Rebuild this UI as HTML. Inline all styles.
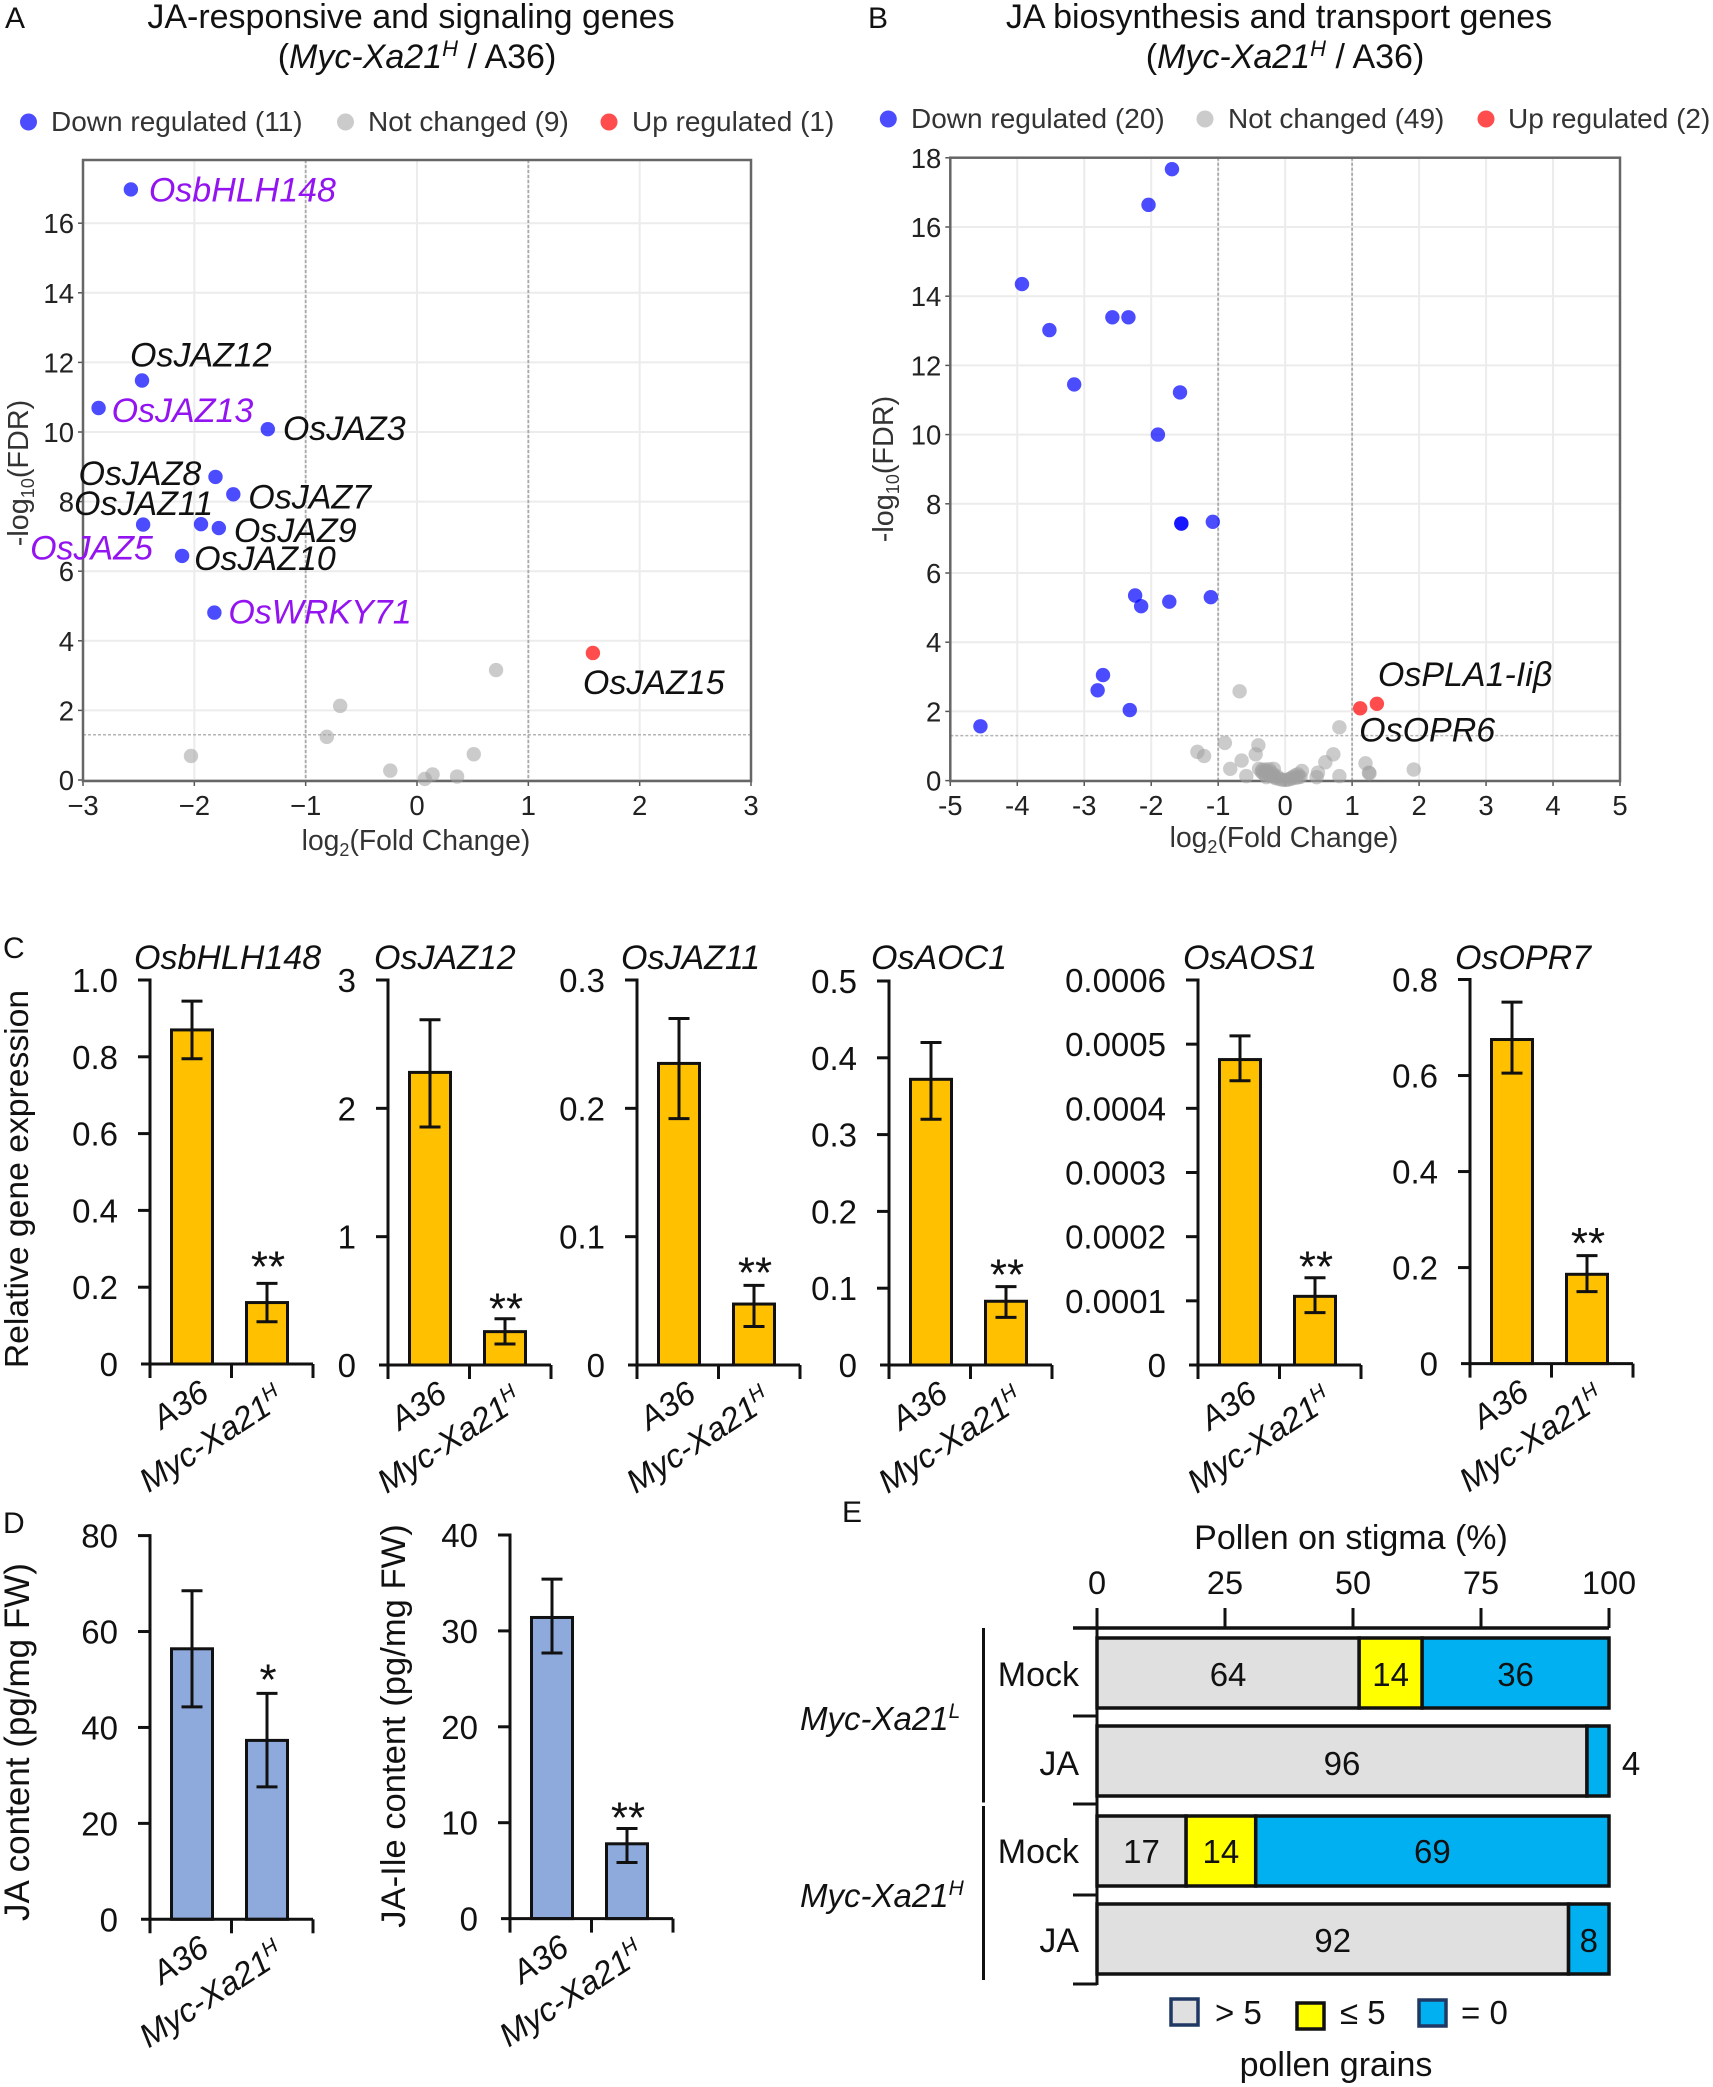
<!DOCTYPE html>
<html><head><meta charset="utf-8"><title>JA figure</title>
<style>
html,body{margin:0;padding:0;background:#fff}
svg{display:block;font-family:"Liberation Sans",sans-serif}
</style></head>
<body>
<svg id="fig" xmlns="http://www.w3.org/2000/svg" width="1713" height="2087" viewBox="0 0 1713 2087" fill="#111">
<rect x="0" y="0" width="1713" height="2087" fill="#fff"/>
<text x="5" y="28" font-size="30">A</text>
<text x="868" y="28" font-size="30">B</text>
<text x="3" y="958" font-size="30">C</text>
<text x="3" y="1533" font-size="30">D</text>
<text x="842" y="1522" font-size="30">E</text>
<text x="411" y="28" font-size="34" text-anchor="middle">JA-responsive and signaling genes</text>
<text x="417" y="68" font-size="34" text-anchor="middle">(<tspan font-style="italic">Myc-Xa21</tspan><tspan font-style="italic" font-size="22" dy="-12">H</tspan><tspan dy="12"> / A36)</tspan></text>
<text x="1279" y="28" font-size="34" text-anchor="middle">JA biosynthesis and transport genes</text>
<text x="1285" y="68" font-size="34" text-anchor="middle">(<tspan font-style="italic">Myc-Xa21</tspan><tspan font-style="italic" font-size="22" dy="-12">H</tspan><tspan dy="12"> / A36)</tspan></text>
<text transform="translate(28,1179) rotate(-90)" font-size="33.7" text-anchor="middle">Relative gene expression</text>
<text transform="translate(29,1742) rotate(-90)" font-size="35" text-anchor="middle">JA content (pg/mg FW)</text>
<text transform="translate(405,1726) rotate(-90)" font-size="34.6" text-anchor="middle">JA-Ile content (pg/mg FW)</text>
<g id="layer"></g>
</svg>
<script>
// Panel A values
const aBlueX=[-2.57,-2.47,-2.86,-1.34,-1.81,-1.65,-2.46,-1.94,-1.78,-2.11,-1.82];
const aBlueY=[16.97,11.48,10.69,10.08,8.71,8.21,7.34,7.35,7.24,6.44,4.81];
const aBlueGenes=['OsbHLH148','OsJAZ12','OsJAZ13','OsJAZ3','OsJAZ8','OsJAZ7','OsJAZ5','OsJAZ11','OsJAZ9','OsJAZ10','OsWRKY71'];
const aGreyX=[0.71,-0.69,-0.81,-2.03,-0.24,0.07,0.14,0.36,0.51];
const aGreyY=[3.16,2.13,1.24,0.69,0.27,0.03,0.16,0.10,0.74];
const aRedX=[1.58];
const aRedY=[3.65];
const aXTicks=[-3,-2,-1,0,1,2,3];
const aYTicks=[0,2,4,6,8,10,12,14,16];
// Panel B values
const bBlueX=[-1.69,-2.04,-3.93,-3.52,-2.58,-2.34,-3.15,-1.57,-1.90,-1.55,-1.55,-1.08,-2.24,-2.15,-1.73,-1.11,-2.72,-2.80,-2.32,-4.55];
const bBlueY=[17.67,16.64,14.35,13.02,13.39,13.39,11.45,11.22,10.0,7.43,7.43,7.48,5.35,5.04,5.17,5.30,3.05,2.61,2.04,1.57];
const bGreyX=[-0.68,0.81,-1.31,-1.21,-0.90,-0.82,-0.65,-0.58,-0.40,-0.44,-0.39,-0.34,-0.27,-0.21,-0.17,-0.30,-0.22,-0.16,-0.09,-0.01,0.07,0.11,0.15,0.19,0.25,0.23,0.47,0.49,0.60,0.72,0.81,1.2,1.25,1.26,1.92,-0.35,-0.3,-0.25,-0.28,-0.18,-0.12,-0.05,0.03,0.1,0.16,0.2,-0.33,-0.24,-0.14];
const bGreyY=[2.58,1.54,0.83,0.71,1.09,0.34,0.58,0.13,1.02,0.76,0.34,0.31,0.28,0.24,0.34,0.18,0.13,0.10,0.05,0.02,0.05,0.1,0.15,0.18,0.28,0.11,0.1,0.23,0.53,0.76,0.13,0.5,0.23,0.21,0.32,0.25,0.32,0.2,0.1,0.18,0.12,0.03,0.02,0.06,0.08,0.1,0.22,0.33,0.07];
const bRedX=[1.12,1.37];
const bRedY=[2.09,2.22];
const bRedGenes=['OsOPR6','OsPLA1-Iiβ'];
const bXTicks=[-5,-4,-3,-2,-1,0,1,2,3,4,5];
const bYTicks=[0,2,4,6,8,10,12,14,16,18];
// Panel C values
const cGenes=['OsbHLH148','OsJAZ12','OsJAZ11','OsAOC1','OsAOS1','OsOPR7'];
const cTickLabels=[['0','0.2','0.4','0.6','0.8','1.0'],['0','1','2','3'],['0','0.1','0.2','0.3'],['0','0.1','0.2','0.3','0.4','0.5'],['0','0.0001','0.0002','0.0003','0.0004','0.0005','0.0006'],['0','0.2','0.4','0.6','0.8']];
const cA36=[0.87,2.28,0.235,0.372,0.000476,0.675];
const cA36Hi=[0.945,2.69,0.27,0.42,0.000513,0.753];
const cA36Lo=[0.795,1.855,0.192,0.32,0.000443,0.605];
const cMyc=[0.16,0.26,0.0475,0.083,0.000107,0.186];
const cMycHi=[0.21,0.36,0.062,0.102,0.000136,0.225];
const cMycLo=[0.11,0.164,0.03,0.062,0.0000816,0.15];
const cStars=['**','**','**','**','**','**'];
// Panel D values
const dTickLabels=[['0','20','40','60','80'],['0','10','20','30','40']];
const dA36=[56.4,31.4];
const dA36Hi=[68.5,35.4];
const dA36Lo=[44.3,27.7];
const dMyc=[37.3,7.8];
const dMycHi=[47.1,9.4];
const dMycLo=[27.6,5.85];
const dStars=['*','**'];
// Panel E values
const eTicks=[0,25,50,75,100];
const eRows=['Mock','JA','Mock','JA'];
const eGrey=[51.2,95.7,17.4,92.1];
const eYellow=[12.3,0,13.6,0];
const eBlue=[36.5,4.3,69,7.9];
const eGreyPrinted=['64','96','17','92'];
const eYellowPrinted=['14','','14',''];
const eBluePrinted=['36','','69','8'];
const eOutsidePrinted=['','4','',''];

const NS='http://www.w3.org/2000/svg';
const layer=document.getElementById('layer');
function mk(tag,attrs){
  const el=document.createElementNS(NS,tag);
  for(const k in attrs) el.setAttribute(k,attrs[k]);
  layer.appendChild(el);
  return el;
}
function line(name,x1,y1,x2,y2,stroke,w,dash){
  const el=mk('line',{x1,y1,x2,y2,stroke,'stroke-width':w});
  if(dash) el.setAttribute('stroke-dasharray',dash);
  
  
  return el;
}
function txt(name,x,y,s,size,anchor,extra){
  const el=mk('text',Object.assign({x,y,'font-size':size,'text-anchor':anchor||'start'},extra||{}));
  el.textContent=s;
  
  
  return el;
}
function dot(name,cx,cy,r,fill){
  const el=mk('circle',{cx,cy,r,fill});
  
  
  return el;
}
function box(name,x,y,w,h,fill,stroke,sw){
  const el=mk('rect',{x,y,width:w,height:h,fill,stroke,'stroke-width':sw});
  
  
  return el;
}
const BLUE='rgba(0,0,255,.7)',RED='rgba(255,0,0,.7)',GREY='rgba(160,160,160,.55)',PURPLE='#9314F0';

function volcano(c){
  const sx=v=>c.left+(v-c.xMin)/(c.xMax-c.xMin)*(c.right-c.left);
  const sy=v=>c.zero-v*c.unit;
  c.xTicks.forEach(t=>{
    line(c.id+'-vgrid',sx(t),c.top,sx(t),c.bottom,'#ececec',2);
    line(c.id+'-xtick',sx(t),c.bottom,sx(t),c.bottom+5,'#555',1.5);
    txt(c.id+'-xtick-label',sx(t),c.xLabelY,(c.minus&&t<0?'−':(t<0?'-':''))+Math.abs(t),c.tickSize,'middle',{fill:'#222'});
  });
  c.yTicks.forEach(t=>{
    line(c.id+'-hgrid',c.left,sy(t),c.right,sy(t),'#ececec',2);
    line(c.id+'-ytick',c.left-5,sy(t),c.left,sy(t),'#555',1.5);
    txt(c.id+'-ytick-label',c.left-9,sy(t)+10,String(t),c.tickSize,'end',{fill:'#222'});
  });
  line(c.id+'-threshold-left',sx(-1),c.top,sx(-1),c.bottom,'#aaa',1.8,'3 2');
  line(c.id+'-threshold-right',sx(1),c.top,sx(1),c.bottom,'#aaa',1.8,'3 2');
  line(c.id+'-threshold-fdr',c.left,sy(1.3),c.right,sy(1.3),'#b4b4b4',1.5,'3 2');
  box(c.id+'-plot-frame',c.left,c.top,c.right-c.left,c.bottom-c.top,'none','#666',2.5);
  c.greyX.forEach((x,i)=>dot(c.id+'-point-not-changed',sx(x),sy(c.greyY[i]),7.2,GREY));
  c.blueX.forEach((x,i)=>dot(c.id+'-point-down',sx(x),sy(c.blueY[i]),7.2,BLUE));
  c.redX.forEach((x,i)=>dot(c.id+'-point-up',sx(x),sy(c.redY[i]),7.2,RED));
  // legend
  const L=c.legend;
  dot(c.id+'-legend-dot-down',L.d1,L.y+1,8.5,BLUE);
  txt(c.id+'-legend-down',L.t1,L.y+10,L.s1,28,'start',{fill:'#333'});
  dot(c.id+'-legend-dot-not-changed',L.d2,L.y+1,8.5,GREY);
  txt(c.id+'-legend-not-changed',L.t2,L.y+10,L.s2,28,'start',{fill:'#333'});
  dot(c.id+'-legend-dot-up',L.d3,L.y+1,8.5,RED);
  txt(c.id+'-legend-up',L.t3,L.y+10,L.s3,28,'start',{fill:'#333'});
  // axis titles
  const xt=txt(c.id+'-x-axis-title',c.xTitleX,c.xTitleY,'log',28.3,'middle',{fill:'#333'});
  const s1=document.createElementNS(NS,'tspan');s1.setAttribute('font-size','18');s1.setAttribute('dy','6');s1.textContent='2';xt.appendChild(s1);
  const s2=document.createElementNS(NS,'tspan');s2.setAttribute('dy','-6');s2.textContent='(Fold Change)';xt.appendChild(s2);
  const yt=txt(c.id+'-y-axis-title',0,0,'-log',28.8,'middle',{fill:'#333',transform:'translate('+c.yTitleX+','+c.yTitleY+') rotate(-90)'});
  const s3=document.createElementNS(NS,'tspan');s3.setAttribute('font-size','18');s3.setAttribute('dy','6');s3.textContent='10';yt.appendChild(s3);
  const s4=document.createElementNS(NS,'tspan');s4.setAttribute('dy','-6');s4.textContent='(FDR)';yt.appendChild(s4);
  return {sx,sy};
}
function geneTag(name,x,y,s,color,size){
  return txt('gene-label-'+name,x,y,s,size||34,'start',{'font-style':'italic','dominant-baseline':'central',fill:color||'#111'});
}
const A=volcano({id:'panel-a',left:83,right:751,top:160,bottom:781,zero:780,unit:34.8,xMin:-3,xMax:3,xTicks:aXTicks,yTicks:aYTicks,minus:true,tickSize:27.5,xLabelY:815,
  greyX:aGreyX,greyY:aGreyY,blueX:aBlueX,blueY:aBlueY,redX:aRedX,redY:aRedY,xTitleX:416,xTitleY:850,yTitleX:28,yTitleY:473,
  legend:{y:121,d1:28.5,t1:51,d2:345.5,t2:368,d3:609,t3:632,s1:'Down regulated (11)',s2:'Not changed (9)',s3:'Up regulated (1)'}});
const B=volcano({id:'panel-b',left:950.3,right:1620,top:157.7,bottom:781,zero:780.6,unit:34.6,xMin:-5,xMax:5,xTicks:bXTicks,yTicks:bYTicks,minus:false,tickSize:27.5,xLabelY:815,
  greyX:bGreyX,greyY:bGreyY,blueX:bBlueX,blueY:bBlueY,redX:bRedX,redY:bRedY,xTitleX:1284,xTitleY:847,yTitleX:893,yTitleY:469,
  legend:{y:118,d1:888.3,t1:911,d2:1205,t2:1228,d3:1486,t3:1508,s1:'Down regulated (20)',s2:'Not changed (49)',s3:'Up regulated (2)'}});

function annA(i,dx,dy,color){
  geneTag(aBlueGenes[i],A.sx(aBlueX[i])+dx,A.sy(aBlueY[i])+dy,aBlueGenes[i],color);
}
annA(0,18,1,PURPLE);annA(1,-12,-25);annA(2,13,3,PURPLE);annA(3,15,0);annA(4,-137,-3);annA(5,15,3);
annA(6,-113,24,PURPLE);annA(7,-127,-20);annA(8,15,3);annA(9,12,3);annA(10,14,0,PURPLE);
geneTag('OsJAZ15',A.sx(aRedX[0])-10,A.sy(aRedY[0])+30,'OsJAZ15');
geneTag(bRedGenes[0],B.sx(bRedX[0])-1,B.sy(bRedY[0])+22,bRedGenes[0]);
geneTag(bRedGenes[1],B.sx(bRedX[1])+1,B.sy(bRedY[1])-29,bRedGenes[1]);

function barChart(c){
  const vals=c.labels.map(Number);
  const max=Math.max.apply(null,vals);
  const sy=v=>c.zero-v/max*(c.zero-c.top);
  const id=c.id;
  const X=c.axis;
  const bars=[[X+21.5,c.a,c.aHi,c.aLo,'a36'],[X+96.5,c.m,c.mHi,c.mLo,'myc']];
  bars.forEach(b=>{
    box(id+'-bar-'+b[4],b[0],sy(b[1]),41,c.zero-sy(b[1]),c.fill,'#111',3);
    const cx=b[0]+20.5;
    line(id+'-errorbar-'+b[4],cx,sy(b[2]),cx,sy(b[3]),'#111',3);
    line(id+'-errorcap-top-'+b[4],cx-10.5,sy(b[2]),cx+10.5,sy(b[2]),'#111',3);
    line(id+'-errorcap-bottom-'+b[4],cx-10.5,sy(b[3]),cx+10.5,sy(b[3]),'#111',3);
  });
  line(id+'-y-axis',X,c.top-1.5,X,c.zero+14,'#111',3);
  line(id+'-x-axis',X-9,c.zero,X+163,c.zero,'#111',3);
  [0,81.5,163].forEach((d,i)=>{ if(i) line(id+'-x-tick',X+d,c.zero,X+d,c.zero+14,'#111',3); });
  c.labels.forEach((s,i)=>{
    const v=vals[i];
    if(v>0) line(id+'-y-tick',X-12,sy(v),X,sy(v),'#111',3);
    txt(id+'-y-tick-label',X-32,sy(v)+12,s,33,'end');
  });
  txt(id+'-significance',X+118,sy(c.mHi)-c.starGap+19,c.star,44,'middle');
  txt(id+'-x-label-a36',0,0,'A36',33,'end',{'font-style':'italic',transform:'translate('+(X+61)+','+(c.zero+34)+') rotate(-33)'});
  const my=txt(id+'-x-label-myc',0,0,'Myc-Xa21',33,'end',{'font-style':'italic',transform:'translate('+(X+136)+','+(c.zero+40)+') rotate(-33)'});
  const sp=document.createElementNS(NS,'tspan');sp.setAttribute('font-size','21');sp.setAttribute('dy','-12');sp.textContent='H';my.appendChild(sp);
  if(c.gene) txt(id+'-gene-title',c.geneX,c.geneY,c.gene,34,'start',{'font-style':'italic'});
}
const cAxis=[150,388,637,889,1198,1470];
const cGeneX=[134,374,621,871,1183,1455];
const cZero=[1364,1365,1365,1365,1365,1363.6];
const cTop=[980,980,980,981,980,979.5];
const cGap=[21,14.5,17,16,15,16.5];
cGenes.forEach((g,i)=>{
  barChart({id:'panel-c-'+g,axis:cAxis[i],zero:cZero[i],top:cTop[i],labels:cTickLabels[i],a:cA36[i],aHi:cA36Hi[i],aLo:cA36Lo[i],m:cMyc[i],mHi:cMycHi[i],mLo:cMycLo[i],star:cStars[i],starGap:cGap[i],fill:'#FFC000',gene:g,geneX:cGeneX[i],geneY:969});
});
const dAxis=[150,510];
const dZero=[1919.3,1918.6];
const dTop=[1535.6,1535];
const dGap=[18,15];
dTickLabels.forEach((lab,i)=>{
  barChart({id:'panel-d-'+(i?'ja-ile':'ja'),axis:dAxis[i],zero:dZero[i],top:dTop[i],labels:lab,a:dA36[i],aHi:dA36Hi[i],aLo:dA36Lo[i],m:dMyc[i],mHi:dMycHi[i],mLo:dMycLo[i],star:dStars[i],starGap:dGap[i],fill:'#8EA9DB'});
});

// Panel E
(function(){
  const x0=1097,x100=1609;
  const sx=p=>x0+p/100*(x100-x0);
  const rowTop=[1638,1726,1816,1904];
  const rowH=70;
  const centers=[1674,1763,1851,1940];
  rowTop.forEach((y,i)=>{
    let c=0;
    [[eGrey[i],'#E0E0E0',eGreyPrinted[i],'grey'],[eYellow[i],'#FFFF00',eYellowPrinted[i],'yellow'],[eBlue[i],'#00B0F0',eBluePrinted[i],'blue']].forEach(seg=>{
      if(seg[0]>0){
        box('pollen-bar-'+i+'-'+seg[3],sx(c),y,sx(c+seg[0])-sx(c),rowH,seg[1],'#111',3.5);
        if(seg[2]) txt('pollen-value-'+i+'-'+seg[3],(sx(c)+sx(c+seg[0]))/2,centers[i]+12,seg[2],33,'middle');
      }
      c+=seg[0];
    });
    if(eOutsidePrinted[i]) txt('pollen-value-outside-'+i,1631,centers[i]+12,eOutsidePrinted[i],33,'middle');
    txt('pollen-row-label-'+i,1079,centers[i]+12,eRows[i],34,'end');
  });
  line('pollen-x-axis',1073,1628,x100,1628,'#111',3.5);
  line('pollen-y-axis',x0,1628,x0,1985,'#111',3);
  eTicks.forEach(t=>{
    line('pollen-x-tick',sx(t),1608,sx(t),1628,'#111',3);
    txt('pollen-x-tick-label',sx(t),1594,String(t),32.5,'middle');
  });
  [1716,1804,1895,1984].forEach(y=>line('pollen-y-tick',1073,y,x0,y,'#111',3));
  line('group-line-low',983.5,1628,983.5,1802.5,'#111',3);
  line('group-line-high',983.5,1806,983.5,1980,'#111',3);
  txt('pollen-axis-title',1351,1549,'Pollen on stigma (%)',34,'middle');
  [['L',1730],['H',1907]].forEach(g=>{
    const t=txt('group-label-'+g[0],800,g[1],'Myc-Xa21',33,'start',{'font-style':'italic'});
    const sp=document.createElementNS(NS,'tspan');sp.setAttribute('font-size','21');sp.setAttribute('dy','-12');sp.textContent=g[0];t.appendChild(sp);
  });
  box('legend-swatch-many',1171,1999,27,26,'#E0E0E0','#1f3864',3.5);
  txt('legend-label-many',1215,2024,'> 5',33,'start');
  box('legend-swatch-few',1297,2003,27,26,'#FFFF00','#111',3.5);
  txt('legend-label-few',1340,2024,'≤ 5',33,'start');
  box('legend-swatch-zero',1419,2000,27,26,'#00B0F0','#1f3864',3.5);
  txt('legend-label-zero',1461,2024,'= 0',33,'start');
  txt('legend-title',1336,2076,'pollen grains',34,'middle');
})();
</script>
</body></html>
